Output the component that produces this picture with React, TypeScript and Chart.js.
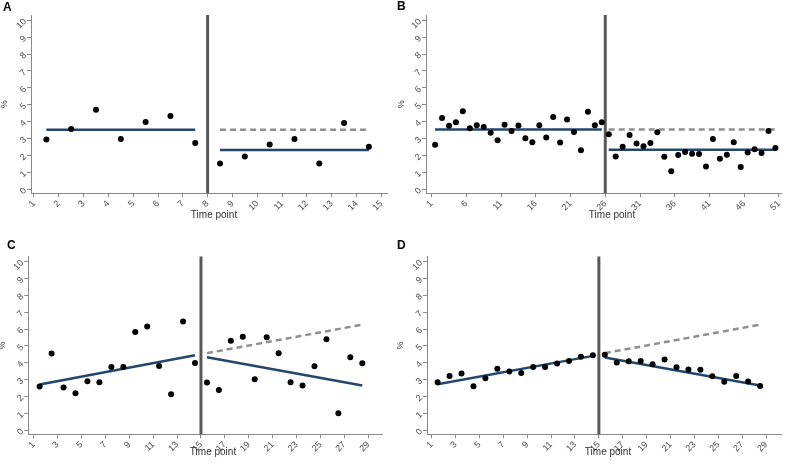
import React, { useEffect, useRef } from "react";
import { Chart, registerables } from "chart.js";

Chart.register(...registerables);

// ---------------- data ----------------
const yTickValues = [0, 1, 2, 3, 4, 5, 6, 7, 8, 9, 10];
const aTickValues = [1, 2, 3, 4, 5, 6, 7, 8, 9, 10, 11, 12, 13, 14, 15];
const bTickValues = [1, 6, 11, 16, 21, 26, 31, 36, 41, 46, 51];
const cTickValues = [1, 3, 5, 7, 9, 11, 13, 15, 17, 19, 21, 23, 25, 27, 29];
const dTickValues = [1, 3, 5, 7, 9, 11, 13, 15, 17, 19, 21, 23, 25, 27, 29];

const xAxisTitle = "Time point";
const yAxisTitle = "%";

// Panel A
const aInterruption = 8;
const aPreStart = 1.5;
const aPostStart = 8.5;
const aPreValues = [2.95, 3.56, 4.71, 2.97, 3.98, 4.34, 2.73];
const aPostValues = [1.52, 1.94, 2.65, 2.97, 1.52, 3.92, 2.51];
const aPreFit = [3.52, 3.52];
const aPostFit = [2.32, 2.32];
const aCounterfactual = [3.52, 3.52];

// Panel B
const bInterruption = 26;
const bPreStart = 1.5;
const bPostStart = 26.5;
const bPreValues = [
  2.64, 4.21, 3.75, 3.97, 4.62, 3.61, 3.79, 3.69, 3.35, 2.9, 3.81, 3.45, 3.77,
  3.02, 2.78, 3.79, 3.06, 4.27, 2.76, 4.13, 3.39, 2.3, 4.58, 3.79, 3.97,
];
const bPostValues = [
  3.25, 1.94, 2.52, 3.21, 2.7, 2.54, 2.74, 3.37, 1.92, 1.07, 2.02, 2.2, 2.1,
  2.08, 1.35, 2.98, 1.81, 2.04, 2.78, 1.31, 2.18, 2.36, 2.14, 3.45, 2.44,
];
const bPreFit = [3.54, 3.54];
const bPostFit = [2.33, 2.33];
const bCounterfactual = [3.54, 3.54];

// Panel C
const cInterruption = 15;
const cPreStart = 1.5;
const cPostStart = 15.5;
const cPreValues = [2.59, 4.55, 2.53, 2.19, 2.91, 2.85, 3.75, 3.75, 5.83, 6.15, 3.81, 2.13, 6.44, 3.99];
const cPostValues = [2.83, 2.39, 5.3, 5.55, 3.02, 5.51, 4.57, 2.85, 2.65, 3.79, 5.4, 1.01, 4.33, 3.97];
const cPreFit = [2.71, 4.45];
const cPostFit = [4.33, 2.65];
const cCounterfactual = [4.57, 6.26];

// Panel D
const dInterruption = 15;
const dPreStart = 1.5;
const dPostStart = 15.5;
const dPreValues = [2.85, 3.22, 3.36, 2.61, 3.08, 3.64, 3.48, 3.4, 3.75, 3.75, 3.95, 4.11, 4.35, 4.45];
const dPostValues = [4.47, 4.01, 4.09, 4.11, 3.91, 4.19, 3.74, 3.6, 3.58, 3.2, 2.87, 3.22, 2.89, 2.63];
const dPreFit = [2.73, 4.41];
const dPostFit = [4.31, 2.65];
const dCounterfactual = [4.57, 6.26];

// ---------------- styles ----------------
const BLUE = "#23466d";
const DASH = "#8f8f8f";
const VLINE = "#595959";
const AXIS = "#8a8a8a";
const TICK_TEXT = "#4d4d4d";
const FONT = 'Arial, "Liberation Sans", sans-serif';

type Spec = {
  letter: string;
  left: number;
  top: number;
  width: number;
  height: number;
  yWidth: number;
  xHeight: number;
  padTop: number;
  padRight: number;
  xMin: number;
  xMax: number;
  yMin: number;
  yMax: number;
  xTicks: number[];
  interruption: number;
  preStart: number;
  pre: number[];
  postStart: number;
  post: number[];
  preFit: number[];
  postFit: number[];
  counterfactual: number[];
  yTitleShift: number;
  titleX: number;
  titleY: number;
  letterLeft: number;
  letterTop: number;
};

const specs: Spec[] = [
  {
    letter: "A", left: 0, top: 0, width: 392, height: 233,
    yWidth: 31, xHeight: 39.7, padTop: 15, padRight: 4.5,
    xMin: 0.88, xMax: 15.25, yMin: -0.24, yMax: 10.31,
    xTicks: aTickValues, interruption: aInterruption,
    preStart: aPreStart, pre: aPreValues, postStart: aPostStart, post: aPostValues,
    preFit: aPreFit, postFit: aPostFit, counterfactual: aCounterfactual,
    yTitleShift: -0.4, titleX: 214, titleY: 215, letterLeft: 3, letterTop: 1,
  },
  {
    letter: "B", left: 392, top: 0, width: 393, height: 233,
    yWidth: 34, xHeight: 39.7, padTop: 15, padRight: 1.2,
    xMin: 0.19, xMax: 51.3, yMin: -0.24, yMax: 10.31,
    xTicks: bTickValues, interruption: bInterruption,
    preStart: bPreStart, pre: bPreValues, postStart: bPostStart, post: bPostValues,
    preFit: bPreFit, postFit: bPostFit, counterfactual: bCounterfactual,
    yTitleShift: 4.3, titleX: 220, titleY: 215, letterLeft: 5, letterTop: 0,
  },
  {
    letter: "C", left: 0, top: 233, width: 392, height: 234,
    yWidth: 28.3, xHeight: 32.7, padTop: 23.5, padRight: 9.4,
    xMin: 0.55, xMax: 30.2, yMin: -0.24, yMax: 10.3,
    xTicks: cTickValues, interruption: cInterruption,
    preStart: cPreStart, pre: cPreValues, postStart: cPostStart, post: cPostValues,
    preFit: cPreFit, postFit: cPostFit, counterfactual: cCounterfactual,
    yTitleShift: -2.7, titleX: 213, titleY: 219, letterLeft: 7, letterTop: 5.5,
  },
  {
    letter: "D", left: 392, top: 233, width: 393, height: 234,
    yWidth: 35, xHeight: 32.7, padTop: 23.5, padRight: 3.5,
    xMin: 0.61, xMax: 30.25, yMin: -0.24, yMax: 10.3,
    xTicks: dTickValues, interruption: dInterruption,
    preStart: dPreStart, pre: dPreValues, postStart: dPostStart, post: dPostValues,
    preFit: dPreFit, postFit: dPostFit, counterfactual: dCounterfactual,
    yTitleShift: 3.3, titleX: 216, titleY: 219, letterLeft: 5, letterTop: 5.5,
  },
];

const decorPlugin = {
  id: "decor",
  beforeDatasetsDraw(chart: any, _args: any, opts: any) {
    const { ctx, chartArea, scales } = chart;
    const x = scales.x.getPixelForValue(opts.interruption);
    ctx.save();
    ctx.strokeStyle = VLINE;
    ctx.lineWidth = 3;
    ctx.beginPath();
    ctx.moveTo(x, chartArea.top);
    ctx.lineTo(x, chartArea.bottom);
    ctx.stroke();
    ctx.restore();
  },
  afterDraw(chart: any, _args: any, opts: any) {
    const { ctx } = chart;
    ctx.save();
    ctx.font = `10px ${FONT}`;
    ctx.fillStyle = "#333333";
    ctx.textAlign = "center";
    ctx.textBaseline = "middle";
    ctx.fillText(opts.title, opts.titleX, opts.titleY);
    ctx.restore();
  },
};

function buildDatasets(s: Spec) {
  const points = [
    ...s.pre.map((v, i) => ({ x: s.preStart + i, y: v })),
    ...s.post.map((v, i) => ({ x: s.postStart + i, y: v })),
  ];
  const preEnd = s.preStart + s.pre.length - 1;
  const postEnd = s.postStart + s.post.length - 1;
  return [
    {
      type: "line",
      data: [
        { x: s.postStart, y: s.counterfactual[0] },
        { x: postEnd, y: s.counterfactual[1] },
      ],
      borderColor: DASH,
      borderDash: [6, 4],
      borderWidth: 2.5,
      pointRadius: 0,
      fill: false,
      order: 3,
    },
    {
      type: "line",
      data: [
        { x: s.preStart, y: s.preFit[0] },
        { x: preEnd, y: s.preFit[1] },
      ],
      borderColor: BLUE,
      borderWidth: 2.5,
      pointRadius: 0,
      fill: false,
      order: 2,
    },
    {
      type: "line",
      data: [
        { x: s.postStart, y: s.postFit[0] },
        { x: postEnd, y: s.postFit[1] },
      ],
      borderColor: BLUE,
      borderWidth: 2.5,
      pointRadius: 0,
      fill: false,
      order: 2,
    },
    {
      type: "scatter",
      data: points,
      backgroundColor: "#000000",
      borderWidth: 0,
      pointRadius: 3,
      order: 1,
    },
  ];
}

function Panel({ spec }: { spec: Spec }) {
  const ref = useRef<HTMLCanvasElement | null>(null);
  useEffect(() => {
    if (!ref.current) return;
    const s = spec;
    const chart = new Chart(ref.current, {
      type: "scatter",
      data: { datasets: buildDatasets(s) as any },
      plugins: [decorPlugin as any],
      options: {
        animation: false,
        responsive: false,
        devicePixelRatio: 1,
        layout: { padding: { left: 0, top: s.padTop, right: s.padRight, bottom: 0 } },
        plugins: {
          legend: { display: false },
          tooltip: { enabled: false },
          decor: {
            interruption: s.interruption,
            title: xAxisTitle,
            titleX: s.titleX,
            titleY: s.titleY,
          },
        } as any,
        scales: {
          x: {
            type: "linear",
            min: s.xMin,
            max: s.xMax,
            grid: {
              display: true,
              drawOnChartArea: false,
              drawTicks: true,
              tickLength: 4,
              color: AXIS,
            },
            border: { display: true, color: AXIS, width: 1 },
            ticks: {
              autoSkip: false,
              minRotation: 45,
              maxRotation: 45,
              padding: 1,
              color: TICK_TEXT,
              font: { family: FONT, size: 9 },
              callback: (v: any) => String(v),
            },
            afterBuildTicks: (scale: any) => {
              scale.ticks = s.xTicks.map((v) => ({ value: v }));
            },
            afterFit: (scale: any) => {
              scale.height = s.xHeight;
              scale.paddingLeft = 0;
              scale.paddingRight = 0;
              scale.paddingTop = 0;
              scale.paddingBottom = 0;
            },
          },
          y: {
            type: "linear",
            min: s.yMin,
            max: s.yMax,
            grid: {
              display: true,
              drawOnChartArea: false,
              drawTicks: true,
              tickLength: 4,
              color: AXIS,
            },
            border: { display: true, color: AXIS, width: 1 },
            ticks: {
              autoSkip: false,
              minRotation: 45,
              maxRotation: 45,
              padding: 2,
              color: TICK_TEXT,
              font: { family: FONT, size: 9 },
              callback: (v: any) => String(v),
            },
            title: {
              display: true,
              text: yAxisTitle,
              color: "#333333",
              font: { family: FONT, size: 9 },
              padding: { top: s.yTitleShift, bottom: 0 },
            },
            afterBuildTicks: (scale: any) => {
              scale.ticks = yTickValues.map((v) => ({ value: v }));
            },
            afterFit: (scale: any) => {
              scale.width = s.yWidth;
              scale.paddingLeft = 0;
              scale.paddingRight = 0;
              scale.paddingTop = 0;
              scale.paddingBottom = 0;
            },
          },
        },
      } as any,
    });
    return () => chart.destroy();
  }, [spec]);

  return (
    <div
      style={{
        position: "absolute",
        left: spec.left,
        top: spec.top,
        width: spec.width,
        height: spec.height,
      }}
    >
      <canvas
        ref={ref}
        width={spec.width}
        height={spec.height}
        style={{ width: spec.width, height: spec.height, display: "block" }}
      />
      <div
        style={{
          position: "absolute",
          left: spec.letterLeft,
          top: spec.letterTop,
          font: `bold 12px ${FONT}`,
          lineHeight: "12px",
          color: "#000",
        }}
      >
        {spec.letter}
      </div>
    </div>
  );
}

export default function App() {
  return (
    <div
      style={{
        position: "fixed",
        left: 0,
        top: 0,
        width: 785,
        height: 467,
        background: "#ffffff",
        overflow: "hidden",
      }}
    >
      {specs.map((s) => (
        <Panel key={s.letter} spec={s} />
      ))}
    </div>
  );
}
